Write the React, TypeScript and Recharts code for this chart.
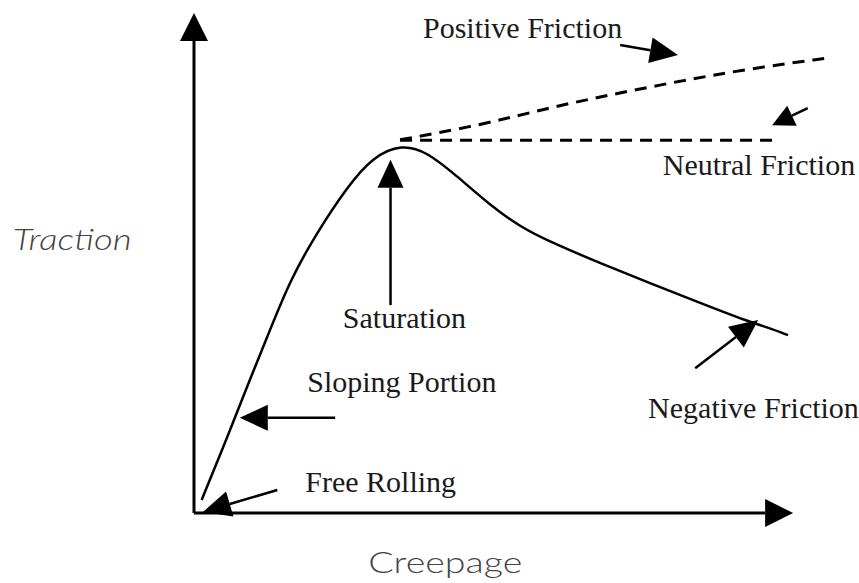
import React from 'react';
import { ComposedChart, Line, XAxis, YAxis, ReferenceLine, ReferenceDot } from 'recharts';

// traction curve (creepage on x, traction on y, both 0-100)
const creepage = [1.2, 5.7, 8.3, 11.5, 15.1, 19.3, 24.1, 28.1, 32.7, 36.6, 41.3, 46.5, 51.3, 56.0, 63.8, 71.7, 79.6, 87.4, 90.1, 93.4];
const traction = [2.6, 16.6, 25.1, 35.1, 46.5, 55.9, 65.1, 71.1, 73.6, 72.1, 67.3, 61.5, 57.1, 54.1, 49.9, 45.9, 41.9, 38.1, 37.1, 35.5];

const positiveX = [32.4, 45.0, 55.5, 65.9, 76.4, 86.9, 99.5];
const positiveY = [74.5, 77.4, 80.8, 83.6, 86.2, 88.6, 90.8];

const neutralX = [32.4, 92.1];
const neutralY = [74.4, 74.4];

// annotation arrows: [fromX, fromY, toX, toY]
const axisArrows = [
    [0, 0, 94.2, 0],
    [0, 0, 0, 99.8],
];
const pointerArrows = [
    [67.0, 93.4, 76.1, 91.4],  // positive friction
    [30.9, 41.5, 30.9, 70.5],  // saturation
    [22.2, 19.0, 7.2, 19.0],   // sloping portion
    [13.1, 4.6, 1.4, 0.2],     // free rolling
    [78.8, 28.9, 88.7, 38.5],  // negative friction
];
const smallArrows = [
    [96.5, 80.8, 90.9, 77.4],  // neutral friction
];

const labels = [
    { text: 'Positive Friction', x: 36.0, y: 94.8 },
    { text: 'Neutral Friction', x: 73.7, y: 67.5 },
    { text: 'Saturation', x: 23.4, y: 36.9 },
    { text: 'Sloping Portion', x: 17.8, y: 24.2 },
    { text: 'Free Rolling', x: 17.5, y: 4.2 },
    { text: 'Negative Friction', x: 71.4, y: 19.0 },
];
const axisTitles = [
    { text: 'Traction', x: -28.5, y: 52.5, italic: true },
    { text: 'Creepage', x: 27.4, y: -12.0, italic: false },
];

const titleWidths: Record<string, number> = {
    'Traction': 119,
    'Creepage': 154,
};

const toRows = (xs: number[], ys: number[]) => xs.map((x, i) => ({ x, y: ys[i] }));

const arrowShape = (head: number, half: number, width: number) => (p: any) => {
    const { x1, y1, x2, y2 } = p;
    const dx = x2 - x1, dy = y2 - y1;
    const len = Math.hypot(dx, dy) || 1;
    const ux = dx / len, uy = dy / len;
    const bx = x2 - ux * head, by = y2 - uy * head;
    const pts = `${x2},${y2} ${bx - uy * half},${by + ux * half} ${bx + uy * half},${by - ux * half}`;
    return (
        <g>
            <line x1={x1} y1={y1} x2={bx} y2={by} stroke="#000" strokeWidth={width} />
            <polygon points={pts} fill="#000" />
        </g>
    );
};

const serifText = (text: string) => (p: any) => (
    <text x={p.cx} y={p.cy} fontFamily="'Liberation Serif', serif" fontSize={30} fill="#1a1a1a">{text}</text>
);

const titleText = (text: string, italic: boolean) => (p: any) => (
    <text x={p.cx} y={p.cy} fontFamily="Lato, sans-serif" fontWeight={300} fontSize={30} fill="#444"
        fontStyle={italic ? 'italic' : 'normal'}
        textLength={titleWidths[text]} lengthAdjust="spacingAndGlyphs">{text}</text>
);

const App: React.FC = () => {
    return (
        <div style={{ position: 'absolute', left: 0, top: 0, width: 859, height: 583, background: '#fff' }}>
            <ComposedChart width={859} height={583} margin={{ top: 12, right: 29, bottom: 70, left: 194 }}>
                <XAxis type="number" dataKey="x" domain={[0, 100]} hide allowDataOverflow />
                <YAxis type="number" dataKey="y" domain={[0, 100]} hide allowDataOverflow />

                {axisArrows.map((a, i) => (
                    <ReferenceLine key={`ax${i}`} ifOverflow="visible"
                        segment={[{ x: a[0], y: a[1] }, { x: a[2], y: a[3] }]}
                        shape={arrowShape(28, 14, 3)} />
                ))}

                <Line data={toRows(creepage, traction)} dataKey="y" type="basis" stroke="#000" strokeWidth={2.5}
                    dot={false} activeDot={false} isAnimationActive={false} />
                <Line data={toRows(positiveX, positiveY)} dataKey="y" type="basis" stroke="#000" strokeWidth={3}
                    strokeDasharray="12 8" dot={false} activeDot={false} isAnimationActive={false} />
                <Line data={toRows(neutralX, neutralY)} dataKey="y" type="linear" stroke="#000" strokeWidth={3}
                    strokeDasharray="12 8" dot={false} activeDot={false} isAnimationActive={false} />

                {pointerArrows.map((a, i) => (
                    <ReferenceLine key={`pa${i}`} ifOverflow="visible"
                        segment={[{ x: a[0], y: a[1] }, { x: a[2], y: a[3] }]}
                        shape={arrowShape(28, 13, 2.5)} />
                ))}
                {smallArrows.map((a, i) => (
                    <ReferenceLine key={`sa${i}`} ifOverflow="visible"
                        segment={[{ x: a[0], y: a[1] }, { x: a[2], y: a[3] }]}
                        shape={arrowShape(22, 11, 2.5)} />
                ))}

                {labels.map(l => (
                    <ReferenceDot key={l.text} x={l.x} y={l.y} r={0} ifOverflow="visible" shape={serifText(l.text)} />
                ))}
                {axisTitles.map(t => (
                    <ReferenceDot key={t.text} x={t.x} y={t.y} r={0} ifOverflow="visible" shape={titleText(t.text, t.italic)} />
                ))}
            </ComposedChart>
        </div>
    );
};

export default App;
